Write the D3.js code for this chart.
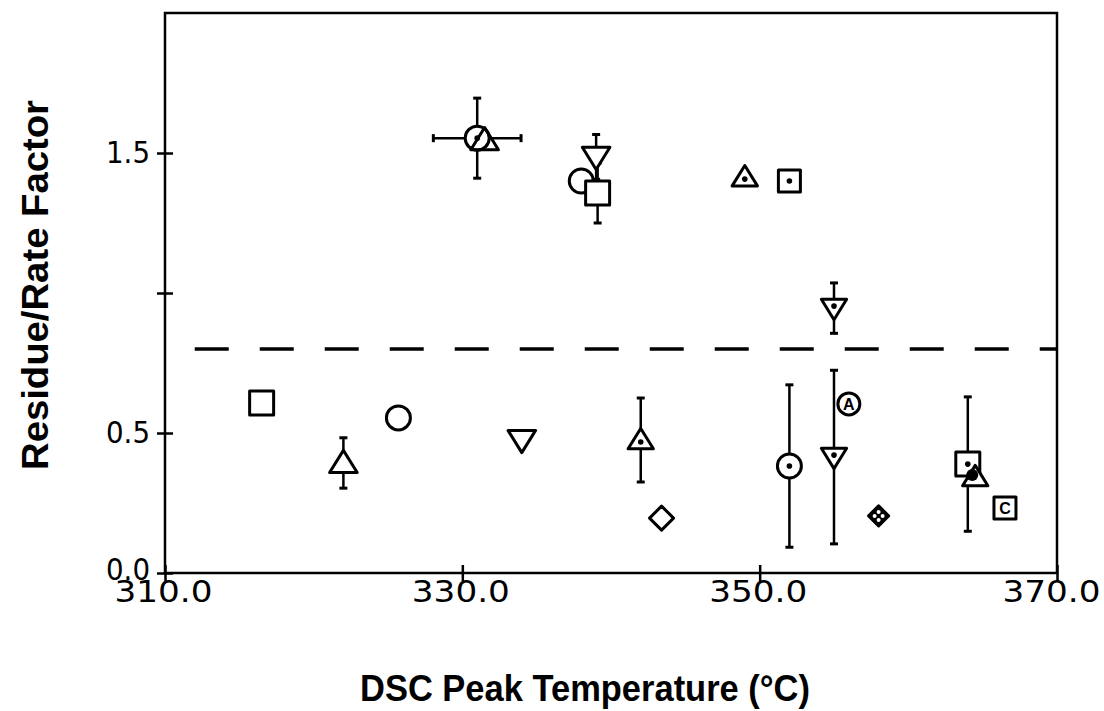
<!DOCTYPE html>
<html>
<head>
<meta charset="utf-8">
<script src="https://cdn.jsdelivr.net/npm/d3@7"></script>
<style>
  body { margin: 0; background: #fff; }
  .tick-label { font-family: "DejaVu Sans", sans-serif; font-size: 30px; fill: #000; }
  .title { font-family: "Liberation Sans", Arial, sans-serif; font-weight: bold; font-size: 37px; fill: #000; }
</style>
</head>
<body>
<div id="chart"></div>
<script>
// data
var temps  = [331.0, 331.5, 339.0, 338.0, 339.1, 349.0, 352.0, 355.0,
              316.5, 322.0, 325.7, 334.0, 342.0, 343.4, 352.0, 355.0, 356.0, 358.0, 364.0, 364.5, 366.5];
var values = [1.553, 1.546, 1.486, 1.40, 1.357, 1.414, 1.40, 0.946,
              0.607, 0.393, 0.554, 0.475, 0.475, 0.196, 0.382, 0.414, 0.604, 0.204, 0.389, 0.343, 0.232];
var errY   = [0.143, 0, 0.08, 0, 0.107, 0, 0, 0.09,
              0, 0.09, 0, 0, 0.15, 0, 0.29, 0.31, 0, 0, 0.24, 0, 0];
var errX   = [2.95, 0, 0, 0, 0, 0, 0, 0,
              0, 0, 0, 0, 0, 0, 0, 0, 0, 0, 0, 0, 0];
var shapes = ["circle", "triangle", "down", "circle", "square", "triangle", "square", "down",
              "square", "triangle", "circle", "down", "triangle", "diamond", "circle", "down", "circle", "diamond", "square", "triangle", "square"];
var inner  = ["dot", "", "", "", "", "dot", "dot", "dot",
              "", "", "", "", "dot", "", "dot", "dot", "A", "cross", "dot", "blob", "C"];
var small  = [false, false, false, false, false, true, true, true,
              false, false, false, false, true, false, false, true, true, true, false, true, true];

var xTicks = [310, 330, 350, 370];
var yTicks = [0, 0.5, 1.0, 1.5];
var yTickLabels = ["0.0", "0.5", "", "1.5"];
var refLine = 0.8;

var width = 1104, height = 711;
var margin = {left: 165, right: 47, top: 13, bottom: 138};

var svg = d3.select("#chart").append("svg")
    .attr("width", width).attr("height", height);

var xScale = d3.scaleLinear().domain([310, 370]).range([margin.left, width - margin.right]);
var yScale = d3.scaleLinear().domain([0, 2.0]).range([height - margin.bottom, margin.top]);

// frame
svg.append("rect")
    .attr("x", xScale(310)).attr("y", yScale(2.0))
    .attr("width", xScale(370) - xScale(310))
    .attr("height", yScale(0) - yScale(2.0))
    .attr("fill", "none").attr("stroke", "#000").attr("stroke-width", 2.5);

// axes (ticks cross the axis line)
var xAxis = d3.axisBottom(xScale).tickValues(xTicks).tickSize(8)
    .tickFormat(d => d3.format(".1f")(d));
var gx = svg.append("g")
    .attr("transform", `translate(0, ${yScale(0)})`)
    .call(xAxis);
gx.select(".domain").remove();
gx.selectAll(".tick line").attr("y1", -8).attr("stroke-width", 2.5);
gx.selectAll(".tick text").attr("class", "tick-label").attr("y", 8).attr("dy", "0.71em")
    .attr("font-size", null).attr("font-family", null)
    .attr("dx", (d, i) => i === xTicks.length - 1 ? -6 : -2)
    .attr("textLength", 98).attr("lengthAdjust", "spacingAndGlyphs");

var yAxis = d3.axisLeft(yScale).tickValues(yTicks).tickSize(8)
    .tickFormat((d, i) => yTickLabels[i]);
var gy = svg.append("g")
    .attr("transform", `translate(${xScale(310)}, 0)`)
    .call(yAxis);
gy.select(".domain").remove();
gy.selectAll(".tick line").attr("x1", 8).attr("x2", -8).attr("stroke-width", 2.5);
gy.selectAll(".tick text").attr("class", "tick-label").attr("x", -15)
    .attr("font-size", null).attr("font-family", null)
    .attr("dy", d => d === 0 ? "0.2em" : "0.32em")
    .attr("textLength", d => d === 1.0 ? null : 44).attr("lengthAdjust", "spacingAndGlyphs");

// dashed reference line
svg.append("line")
    .attr("x1", xScale(312.0)).attr("x2", xScale(370))
    .attr("y1", yScale(refLine)).attr("y2", yScale(refLine))
    .attr("stroke", "#000").attr("stroke-width", 3.5)
    .attr("stroke-dasharray", "34,31");

var points = temps.map((t, i) => ({
    x: t, y: values[i], ey: errY[i], ex: errX[i],
    shape: shapes[i], inner: inner[i], small: small[i]
}));

// error bars
var eb = svg.append("g").attr("stroke", "#000").attr("stroke-width", 2.5);
points.filter(d => d.ey > 0).forEach(function(d) {
    var cx = xScale(d.x);
    eb.append("line").attr("x1", cx).attr("x2", cx)
        .attr("y1", yScale(d.y - d.ey)).attr("y2", yScale(d.y + d.ey));
    [d.y - d.ey, d.y + d.ey].forEach(v => {
        eb.append("line").attr("x1", cx - 4).attr("x2", cx + 4)
            .attr("y1", yScale(v)).attr("y2", yScale(v)).attr("stroke-width", 3);
    });
});
points.filter(d => d.ex > 0).forEach(function(d) {
    var cy = yScale(d.y);
    eb.append("line").attr("x1", xScale(d.x - d.ex)).attr("x2", xScale(d.x + d.ex))
        .attr("y1", cy).attr("y2", cy);
    [d.x - d.ex, d.x + d.ex].forEach(v => {
        eb.append("line").attr("x1", xScale(v)).attr("x2", xScale(v))
            .attr("y1", cy - 4).attr("y2", cy + 4).attr("stroke-width", 3);
    });
});

// markers
function shapePath(shape, r) {
    if (shape === "square") return `M${-r},${-r}H${r}V${r}H${-r}Z`;
    if (shape === "circle") return d3.arc()({innerRadius: 0, outerRadius: r, startAngle: 0, endAngle: 2 * Math.PI});
    if (shape === "triangle") return `M0,${-r * 1.05}L${r * 1.15},${r * 0.8}L${-r * 1.15},${r * 0.8}Z`;
    if (shape === "down") return `M0,${r * 1.05}L${r * 1.15},${-r * 0.8}L${-r * 1.15},${-r * 0.8}Z`;
    if (shape === "diamond") return `M0,${-r}L${r},0L0,${r}L${-r},0Z`;
}

var mk = svg.append("g");
points.forEach(function(d, i) {
    var r = d.small ? 11 : 12;
    if (d.shape === "diamond") r = d.small ? 10 : 12;
    var g = mk.append("g").attr("transform", `translate(${xScale(d.x)},${yScale(d.y)})`);
    g.append("path").attr("d", shapePath(d.shape, r))
        .attr("fill", i === 1 ? "none" : "#fff")
        .attr("stroke", "#000").attr("stroke-width", 3).attr("stroke-linejoin", "round");
    if (d.inner === "dot") {
        var dy = d.shape === "triangle" ? 2 : (d.shape === "down" ? -2 : 0);
        g.append("circle").attr("cy", dy).attr("r", 2.8).attr("fill", "#000");
    } else if (d.inner === "A" || d.inner === "C") {
        g.append("text").attr("text-anchor", "middle").attr("dy", "0.36em")
            .attr("font-family", "Liberation Sans, Arial, sans-serif").attr("font-weight", "bold")
            .attr("font-size", 16).text(d.inner);
    } else if (d.inner === "cross") {
        g.select("path").attr("fill", "#000");
        [[0, -4], [4, 0], [0, 4], [-4, 0]].forEach(p =>
            g.append("circle").attr("cx", p[0]).attr("cy", p[1]).attr("r", 2).attr("fill", "#fff"));
    } else if (d.inner === "blob") {
        g.append("circle").attr("cx", -3).attr("cy", -2).attr("r", 6).attr("fill", "#000");
    }
});

// titles
svg.append("text").attr("class", "title")
    .attr("x", 585).attr("y", 701).attr("text-anchor", "middle")
    .attr("textLength", 450).attr("lengthAdjust", "spacingAndGlyphs")
    .text("DSC Peak Temperature (°C)");

svg.append("text").attr("class", "title")
    .attr("transform", "translate(48, 285) rotate(-90)")
    .attr("text-anchor", "middle")
    .attr("textLength", 370).attr("lengthAdjust", "spacingAndGlyphs")
    .text("Residue/Rate Factor");
</script>
</body>
</html>
